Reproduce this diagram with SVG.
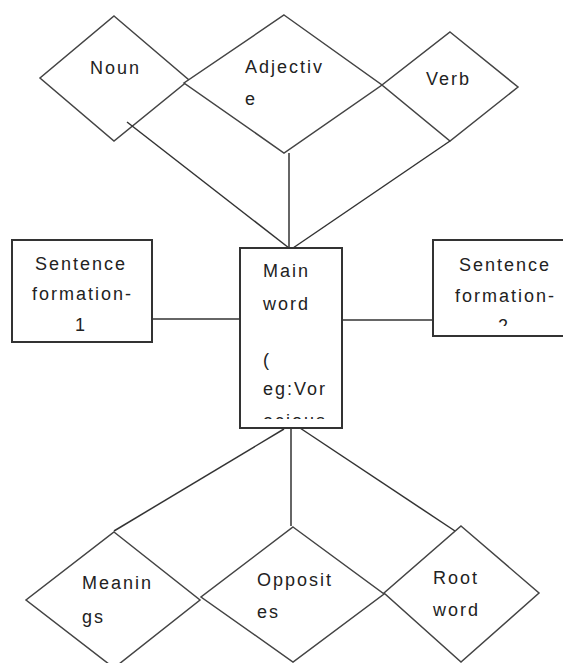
<svg xmlns="http://www.w3.org/2000/svg" width="563" height="663" viewBox="0 0 563 663">
<style>
.d{fill:#fff;stroke:#444;stroke-width:1.5}
.b{fill:#fff;stroke:#333;stroke-width:2}
.c{stroke:#333;stroke-width:1.5;fill:none}
text{font-family:"Liberation Sans",Arial,sans-serif;font-size:18px;letter-spacing:2px;fill:#222}
</style>
<defs>
<clipPath id="cm"><rect x="241" y="249" width="100" height="170"/></clipPath>
<clipPath id="cr"><rect x="434" y="241" width="130" height="85"/></clipPath>
</defs>
<rect width="563" height="663" fill="#fff"/>
<g id="noun"><polygon class="d" points="114,16 189,80 114,141 40,78"/><text x="90" y="74">Noun</text></g>
<g id="adjective"><polygon class="d" points="284,15 382,85 284,153 184,83"/><text x="245" y="73">Adjectiv</text><text x="245" y="105">e</text></g>
<g id="verb"><polygon class="d" points="450,32 518,87 450,141 382,85"/><text x="426" y="85">Verb</text></g>
<g id="connectors">
<line class="c" x1="127" y1="122" x2="289" y2="248"/>
<line class="c" x1="289" y1="153" x2="289" y2="248"/>
<line class="c" x1="450" y1="141" x2="293" y2="248"/>
<line class="c" x1="152" y1="319" x2="240" y2="319"/>
<line class="c" x1="342" y1="320" x2="433" y2="320"/>
<line class="c" x1="284" y1="429" x2="114" y2="531"/>
<line class="c" x1="291" y1="429" x2="291" y2="526"/>
<line class="c" x1="300" y1="428" x2="455" y2="531"/>
</g>
<g id="sentence1"><rect class="b" x="12" y="240" width="140" height="102"/><text x="35" y="270">Sentence</text><text x="32" y="300">formation-</text><text x="75" y="331">1</text></g>
<g id="mainword"><rect class="b" x="240" y="248" width="102" height="180"/>
<g clip-path="url(#cm)"><text x="263" y="277">Main</text><text x="263" y="310">word</text><text x="263" y="366">(</text><text x="263" y="395">eg:Vor</text><text x="263" y="427">acious</text></g></g>
<g id="sentence2"><rect class="b" x="433" y="240" width="135" height="96"/>
<g clip-path="url(#cr)"><text x="459" y="271">Sentence</text><text x="455" y="302">formation-</text><text x="498" y="332">2</text></g></g>
<g id="meanings"><polygon class="d" points="114,532 200,600 114,668 26,600"/><text x="82" y="589">Meanin</text><text x="82" y="623">gs</text></g>
<g id="opposites"><polygon class="d" points="293,527 384,594 293,662 201,597"/><text x="257" y="586">Opposit</text><text x="257" y="618">es</text></g>
<g id="rootword"><polygon class="d" points="461,526 539,593 461,662 384,593"/><text x="433" y="584">Root</text><text x="433" y="616">word</text></g>
</svg>
